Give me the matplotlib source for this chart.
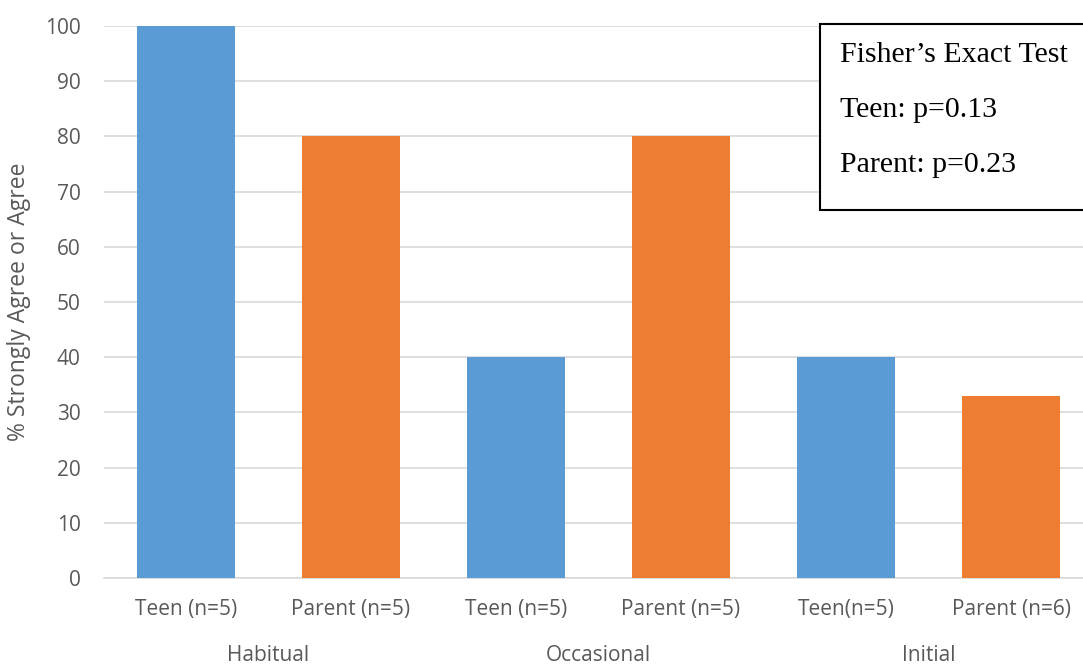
import matplotlib
matplotlib.use("Agg")
import matplotlib.pyplot as plt
from matplotlib.patches import Rectangle

categories = ["Teen (n=5)", "Parent (n=5)", "Teen (n=5)", "Parent (n=5)", "Teen(n=5)", "Parent (n=6)"]
values = [100, 80, 40, 80, 40, 33]
groups = ["Habitual", "Occasional", "Initial"]
colors = ["#5B9BD5", "#ED7D31", "#5B9BD5", "#ED7D31", "#5B9BD5", "#ED7D31"]
yticks = [0, 10, 20, 30, 40, 50, 60, 70, 80, 90, 100]
box_lines = ["Fisher\u2019s Exact Test", "Teen: p=0.13", "Parent: p=0.23"]

W, H = 1083, 666
fig = plt.figure(figsize=(W / 100, H / 100), dpi=100)
left, right, bottom, top = 103.5, 1093.5, 578, 26
ax = fig.add_axes([left / W, 1 - bottom / H, (right - left) / W, (bottom - top) / H])

x = list(range(len(values)))
ax.bar(x, values, width=0.59, color=colors, zorder=3)
ax.set_xlim(-0.5, len(values) - 0.5)
ax.set_ylim(0, 100)
ax.set_yticks(yticks)
ax.set_xticks(x)
ax.set_xticklabels(categories)
grey = "#595959"
ax.tick_params(axis="both", length=0, colors=grey, labelsize=15)
ax.tick_params(axis="x", pad=15)
ax.tick_params(axis="y", pad=16.5)
for lab in ax.get_yticklabels() + ax.get_xticklabels():
    lab.set_fontfamily("Open Sans")
ax.grid(axis="y", color="#D9D9D9", linewidth=1.2, zorder=0)
for s in ["top", "right", "left"]:
    ax.spines[s].set_visible(False)
ax.spines["bottom"].set_color("#D9D9D9")
ax.spines["bottom"].set_linewidth(1.2)
ax.set_ylabel("% Strongly Agree or Agree", fontsize=16.5, color=grey, family="Open Sans", labelpad=10)

for i, g in enumerate(groups):
    ax.text(2 * i + 0.5, -0.14, g, transform=ax.get_xaxis_transform(), ha="center", va="center",
            fontsize=15, color=grey, family="Open Sans")

# text box
bx0, by0, bx1, by1 = 820, 24, 1090, 210
fig.patches.append(Rectangle((bx0 / W, 1 - by1 / H), (bx1 - bx0) / W, (by1 - by0) / H,
                             transform=fig.transFigure, facecolor="white", edgecolor="black",
                             linewidth=1.5, zorder=10))
for i, t in enumerate(box_lines):
    fig.text(840 / W, 1 - (55 + 55 * i) / H, t, ha="left", va="center", fontsize=21.5,
             family="Liberation Serif", color="black", zorder=11)

fig.savefig("out.png", dpi=100)
